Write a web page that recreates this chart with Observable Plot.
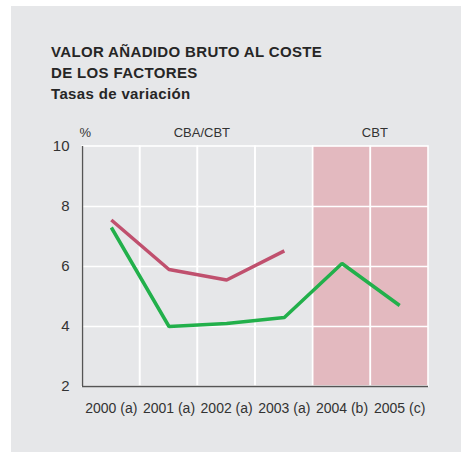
<!DOCTYPE html>
<html>
<head>
<meta charset="utf-8">
<script src="https://cdn.jsdelivr.net/npm/d3@7"></script>
<script src="https://cdn.jsdelivr.net/npm/@observablehq/plot@0.6"></script>
<style>
  html, body { margin: 0; padding: 0; background: #ffffff; }
  #wrap { position: relative; width: 461px; height: 452px; overflow: hidden; font-family: "Liberation Sans", Arial, sans-serif; }
  #panel { position: absolute; left: 11px; top: 6px; right: 0; bottom: 0; background: #e6e7e9; }
  #title { position: relative; height: 110px; box-sizing: border-box; padding: 41px 0 0 51px; font-size: 15px; line-height: 21px; font-weight: bold; color: #262626; letter-spacing: 0.35px; }
  #chart { position: relative; }
  #chart svg { display: block; }
</style>
</head>
<body>
<div id="wrap">
  <div id="panel"></div>
  <div id="title">
    <div>VALOR AÑADIDO BRUTO AL COSTE</div>
    <div>DE LOS FACTORES</div>
    <div>Tasas de variación</div>
  </div>
  <div id="chart"></div>
</div>
<script>
const years = ["2000 (a)", "2001 (a)", "2002 (a)", "2003 (a)", "2004 (b)", "2005 (c)"];
const serieCBA = [7.55, 5.9, 5.55, 6.52, null, null];   // red series
const serieCBT = [7.3, 4.0, 4.1, 4.3, 6.1, 4.7];        // green series
const shadedYears = ["2004 (b)", "2005 (c)"];
const yTicks = [2, 4, 6, 8, 10];
const groupLabels = ["CBA/CBT", "CBT"];
const groupFrom = ["2000 (a)", "2004 (b)"];
const groupTo = ["2003 (a)", "2005 (c)"];
const unitLabel = "%";

const pink = "#e3b9bf";
const red = "#c0506e";
const green = "#22b04b";
const yMin = d3.min(yTicks), yMax = d3.max(yTicks);

const idx = years.map((_, i) => i);
const redData = years.map((y, i) => ({i, v: serieCBA[i]}));
const greenData = years.map((y, i) => ({i, v: serieCBT[i]}));
const groups = groupLabels.map((g, k) => ({
  label: g,
  mid: (years.indexOf(groupFrom[k]) + years.indexOf(groupTo[k])) / 2
}));

const plot = Plot.plot({
  width: 461,
  height: 342,
  marginLeft: 82,
  marginRight: 33,
  marginTop: 36,
  marginBottom: 66,
  style: { background: "transparent", fontFamily: "Liberation Sans, Arial, sans-serif", color: "#333" },
  x: { domain: [-0.5, years.length - 0.5] },
  y: { domain: [yMin, yMax] },
  marks: [
    Plot.rect(idx, {
      x1: i => i - 0.5, x2: i => i + 0.5, y1: yMin, y2: yMax,
      fill: i => shadedYears.includes(years[i]) ? pink : "none",
      stroke: "white", strokeWidth: 1.6
    }),
    Plot.ruleY(yTicks.filter(t => t > yMin && t < yMax), { stroke: "white", strokeWidth: 1.6 }),
    Plot.ruleX([-0.5], { y1: yMin, y2: yMax, stroke: "#555", strokeWidth: 1.4 }),
    Plot.ruleY([yMin], { x1: -0.5, x2: years.length - 0.5, stroke: "#555", strokeWidth: 1.4 }),
    Plot.line(redData, { x: "i", y: "v", stroke: red, strokeWidth: 3.5, strokeLinejoin: "miter", strokeLinecap: "butt" }),
    Plot.line(greenData, { x: "i", y: "v", stroke: green, strokeWidth: 3.5, strokeLinejoin: "miter", strokeLinecap: "butt" }),
    Plot.axisY(yTicks, { tickSize: 0, tickPadding: 13, fontSize: 15, fill: "#333", label: null }),
    Plot.axisX(idx, { tickSize: 0, tickPadding: 17, fontSize: 14, fill: "#333", label: null, tickFormat: i => years[i] }),
    Plot.text(groups, { x: "mid", y: yMax, text: "label", dy: -14, dx: 4, fontSize: 13, fill: "#333", lineAnchor: "middle" }),
    Plot.text([unitLabel], { frameAnchor: "top-left", dx: -3, dy: -14, fontSize: 13, fill: "#333", lineAnchor: "middle" })
  ]
});
document.getElementById("chart").appendChild(plot);
</script>
</body>
</html>
